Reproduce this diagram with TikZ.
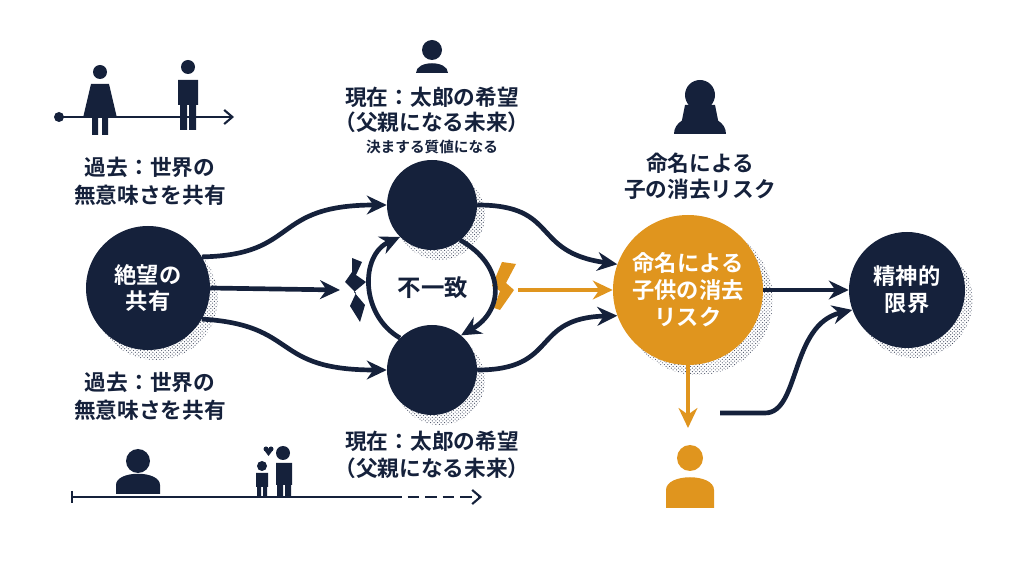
\documentclass[tikz,border=0pt]{standalone}
\usepackage{fontspec}
\setmainfont{Noto Sans CJK JP Bold}
\usetikzlibrary{arrows.meta,patterns}
\definecolor{nv}{HTML}{15213B}
\definecolor{og}{HTML}{E0951E}
\begin{document}
\begin{tikzpicture}[x=0.03cm,y=-0.03cm,
 flow/.style={draw=nv,line width=4pt,-{Stealth[length=17pt,width=16pt]}},
 oflow/.style={draw=og,line width=4pt,-{Stealth[length=17pt,width=16pt]}},
 big/.style={circle,fill=nv,text=white,font=\fontsize{19}{23}\selectfont,align=center,inner sep=0pt},
 shad/.style={pattern=crosshatch dots,pattern color=nv!80},
 lab/.style={text=nv,font=\fontsize{18.5}{21}\selectfont,align=center},
 slab/.style={text=nv,font=\fontsize{12.5}{14}\selectfont}]
\useasboundingbox (0,0) rectangle (1024,572);
% shadows
\fill[shad] (156,298) circle (62);
\fill[shad] (440,215) circle (45);
\fill[shad] (440,380) circle (45);
\fill[shad] (698,300) circle (75);
\fill[shad] (915,300) circle (58);
% circles
\node[big,minimum size=3.72cm] (L) at (148,288) {絶望の\\共有};
\node[big,minimum size=2.7cm] (T) at (432,205) {};
\node[big,minimum size=2.7cm] (B) at (432,370) {};
\node[big,fill=og,minimum size=4.5cm] (O) at (688,290) {命名による\\子供の消去\\リスク};
\node[big,minimum size=3.48cm] (R) at (907,290) {精神的\\限界};
% break shapes
\fill[nv] (352,258)--(362,262)--(356,275)--(366,282)--(354,292)--(365,305)--(360,322)--(350,306)--(356,293)--(345,282)--(352,272)--cycle;
\fill[og] (502,262)--(516,264)--(506,283)--(514,290)--(500,310)--(494,308)--(500,291)--(492,286)--cycle;
% flows
\coordinate (Bk) at (340,290);
\coordinate (Bo) at (518,290);
\draw[flow] (L.30) .. controls (300,255) and (270,205) .. (T.west);
\draw[flow] (L.0) -- (Bk);
\draw[flow] (L.-30) .. controls (300,325) and (270,370) .. (B.west);
\draw[flow] (T.east) .. controls (560,205) and (530,252) .. (O.160);
\draw[flow] (B.east) .. controls (560,370) and (530,318) .. (O.200);
\draw[oflow] (Bo) -- (O.west);
\draw[flow] (O.east) -- (R.west);
\coordinate (bs) at (400,338);
\draw[flow] (bs) .. controls (360,315) and (360,255) .. (T.225);
\coordinate (ts) at (460,240);
\draw[flow] (ts) .. controls (505,265) and (505,310) .. (B.50);
\node[lab,font=\fontsize{20}{22}\selectfont] (M) at (433,288) {不一致};
% orange person
\coordinate (Op) at (688,428);
\draw[oflow] (O.south) -- (Op);
\fill[og] (690,458) circle (13) (666,508)--(666,490) .. controls (666,473) and (714,473) .. (714,490)--(714,508)--cycle;
\coordinate (Rs) at (720,413);
\draw[flow] (Rs) -- (765,413) .. controls (800,413) and (790,325) .. (R.200);
% top person icon
\fill[nv] (432,50) circle (10) (416,73) .. controls (416,60) and (448,60) .. (448,73)--cycle;
\node[lab] (t1) at (432,97) {現在：太郎の希望};
\node[lab] (t2) at (432,122) {（父親になる未来）};
\node[slab] (t3) at (432,147) {決まする質値になる};
% woman icon right
\fill[nv] (700,95) circle (15) (674,134) .. controls (674,110) and (726,110) .. (726,134)--cycle (685,105)--(715,105)--(719,125)--(681,125)--cycle;
\node[lab] (r1) at (700,163) {命名による};
\node[lab] (r2) at (700,189) {子の消去リスク};
% top-left timeline
\fill[nv] (59,117) circle (5);
\draw[nv,line width=1.8pt,-{Straight Barb[length=7pt,width=12pt]}] (59,117) -- (234,117);
\fill[nv] (100,72) circle (7) (91,84)--(109,84)--(117,118)--(83,118)--cycle (92,118) rectangle (98,135) (102,118) rectangle (108,135);
\fill[nv] (188,67) circle (7) (178,80) rectangle (198,105) (180,105) rectangle (187,130) (189,105) rectangle (196,130);
\node[lab] (p1) at (150,167) {過去：世界の};
\node[lab] (p2) at (150,195) {無意味さを共有};
\node[lab] (p3) at (150,382) {過去：世界の};
\node[lab] (p4) at (150,410) {無意味さを共有};
% bottom text
\node[lab] (b1) at (432,441) {現在：太郎の希望};
\node[lab] (b2) at (432,468) {（父親になる未来）};
% bottom timeline
\draw[nv,line width=1.8pt] (72,491)--(72,503) (72,497) -- (390,497);
\draw[nv,line width=1.8pt,dashed,dash pattern=on 10pt off 5pt,-{Straight Barb[length=7pt,width=12pt]}] (390,497) -- (482,497);
\fill[nv] (138,461) circle (12) (116,494)--(116,485) .. controls (116,470) and (160,470) .. (160,485)--(160,494)--cycle;
\fill[nv] (283,453) circle (7) (276,463) rectangle (292,485) (277,485) rectangle (283,498) (285,485) rectangle (291,498);
\fill[nv] (262,466) circle (5) (256,473) rectangle (268,487) (257,487) rectangle (261,496) (263,487) rectangle (267,496);
\fill[nv] (266,449) circle (2.5) (271,449) circle (2.5) (264,450)--(273,450)--(268.5,456)--cycle;
\end{tikzpicture}
\end{document}
